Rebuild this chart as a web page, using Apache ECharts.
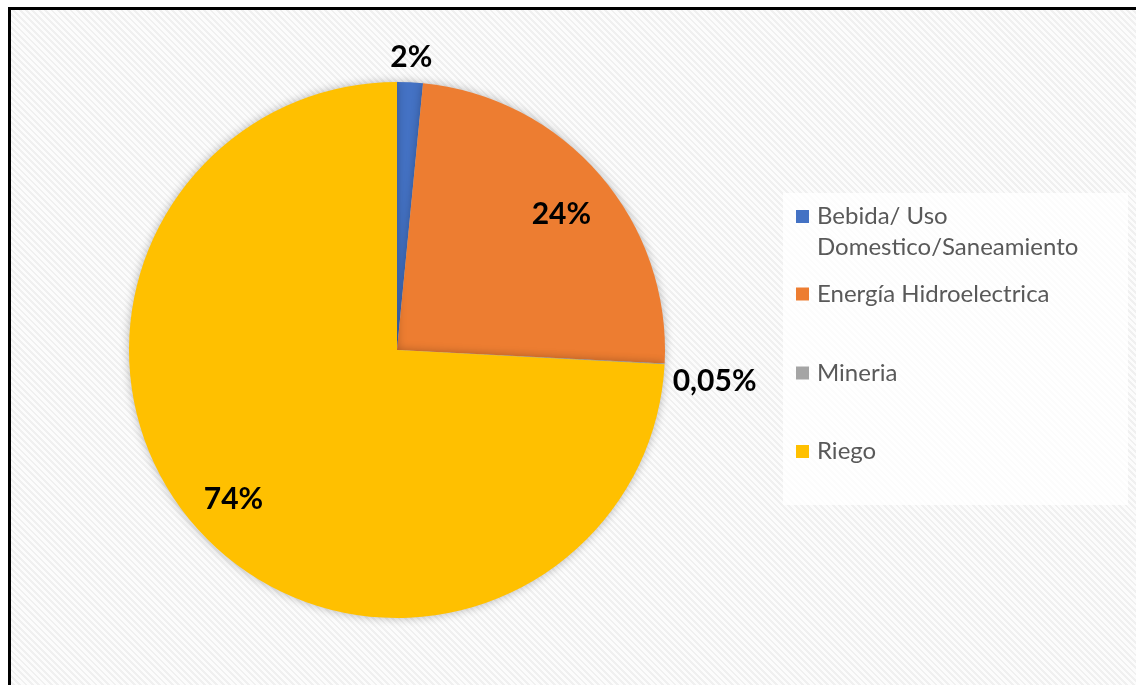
<!DOCTYPE html>
<html>
<head>
<meta charset="utf-8">
<script src="https://cdn.jsdelivr.net/npm/echarts@6/dist/echarts.min.js"></script>
<style>
html,body{margin:0;padding:0;width:1136px;height:685px;overflow:hidden;background:#fff;}
#frame{position:absolute;left:8px;top:7px;width:1300px;height:900px;border-left:3px solid #000;border-top:3px solid #000;
background:repeating-linear-gradient(45deg,#fcfcfc 0px,#fcfcfc 2.5px,#f0f0f0 2.5px,#f0f0f0 4.5px);}
#chart{position:absolute;left:0;top:0;width:1136px;height:685px;}
</style>
</head>
<body>
<div id="frame"></div>
<div id="chart"></div>
<script>
// ---- data ----
const categories = ['Bebida/ Uso Domestico/Saneamiento', 'Energía Hidroelectrica', 'Mineria', 'Riego'];
const values = [1.55, 24.25, 0.05, 74.15];
const labelTexts = ['2%', '24%', '0,05%', '74%'];
const legendTexts = ['\nBebida/ Uso\nDomestico/Saneamiento', 'Energía Hidroelectrica', 'Mineria', 'Riego'];

// ---- styles ----
const colors = ['#4472C4', '#ED7D31', '#A5A5A5', '#FFC000'];
const labelRing = ['outer', 'inner', 'outer', 'inner'];
const CX = 397, CY = 350, R = 268;
const labelFont = { fontFamily: 'Lato', fontWeight: 'bold', fontSize: 30, color: '#000' };

const chart = echarts.init(document.getElementById('chart'), null, { renderer: 'canvas' });

function ringData(ring) {
  return categories.map((n, i) => ({
    name: n, value: values[i],
    label: { show: labelRing[i] === ring, formatter: labelTexts[i] }
  }));
}

const legendTops = [170, 281, 360, 438.5];
const legends = categories.map((n, i) => ({
  data: [n],
  orient: 'vertical',
  left: 796,
  top: legendTops[i],
  padding: 0,
  itemWidth: 13,
  itemHeight: 13,
  icon: 'rect',
  selectedMode: false,
  formatter: () => legendTexts[i],
  textStyle: {
    fontFamily: 'Lato', fontSize: 24, color: '#595959',
    lineHeight: i === 0 ? 31 : 26,
    padding: [0, 0, 0, 3]
  }
}));

chart.setOption({
  animation: false,
  backgroundColor: 'transparent',
  color: colors,
  legend: legends,
  graphic: [{
    type: 'rect', z: 0, silent: true,
    shape: { x: 783, y: 193, width: 345, height: 312 },
    style: { fill: 'rgba(255,255,255,0.8)' }
  }],
  series: [
    {
      type: 'pie', center: [CX, CY], radius: R, startAngle: 90, clockwise: true,
      avoidLabelOverlap: false, silent: true,
      label: { show: false }, labelLine: { show: false },
      itemStyle: { shadowBlur: 10, shadowColor: 'rgba(0,0,0,0.28)' },
      emphasis: { disabled: true },
      data: categories.map((n, i) => ({ name: n, value: values[i] }))
    },
    {
      type: 'pie', center: [CX, CY], radius: [160, R], startAngle: 90, clockwise: true,
      avoidLabelOverlap: false, silent: true, z: 3,
      itemStyle: { color: 'transparent' },
      label: Object.assign({ position: 'inside' }, labelFont), labelLine: { show: false },
      labelLayout: (p) => (p.dataIndex === 1 ? { dy: 6 } : p.dataIndex === 3 ? { dx: -6 } : {}),
      emphasis: { disabled: true },
      data: ringData('inner')
    },
    {
      type: 'pie', center: [CX, CY], radius: [280, 300], startAngle: 90, clockwise: true,
      avoidLabelOverlap: false, silent: true, z: 3,
      itemStyle: { color: 'transparent' },
      label: Object.assign({ position: 'inside' }, labelFont), labelLine: { show: false },
      labelLayout: (p) => (p.dataIndex === 2 ? { dx: 25, dy: 16 } : {}),
      emphasis: { disabled: true },
      data: ringData('outer')
    }
  ]
});
</script>
</body>
</html>
